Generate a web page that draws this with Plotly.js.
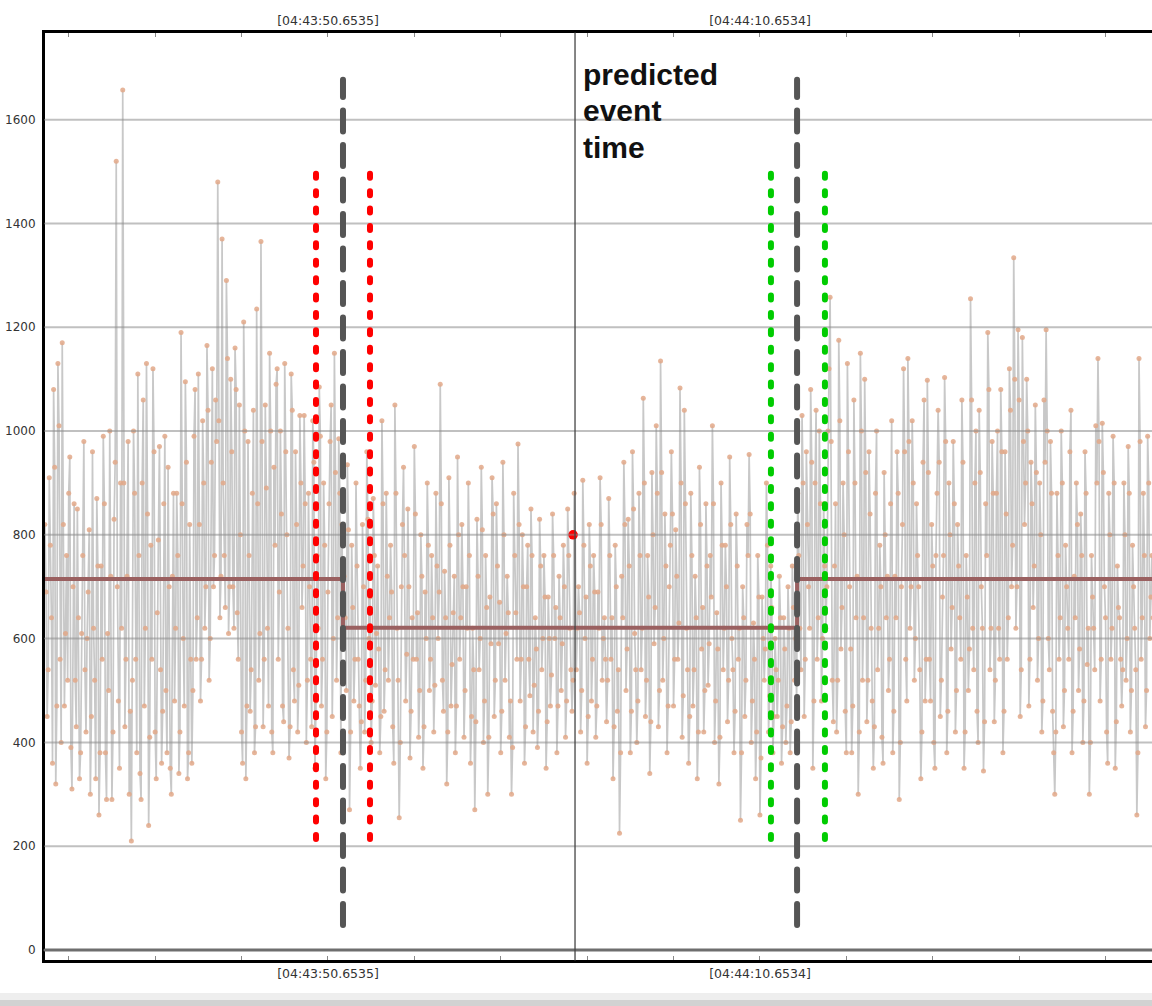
<!DOCTYPE html>
<html><head><meta charset="utf-8">
<script src="https://cdn.plot.ly/plotly-3.0.1.min.js"></script>
<style>html,body{margin:0;padding:0;background:#fff}#chart{width:1152px;height:1006px}
.shapelayer path{stroke-linecap:round}</style>
</head><body><div id="chart"></div>
<script>
// time axis: seconds after 04:43:00, one sample every 50 ms
const sampleStart = 37.55;
const samplePeriod = 0.05;

const valuesBefore = [
820,690,450,540,910,780,640,360,1080,930,320,470,1130,1010,560,400,1170,820,470,610,760,520,880,950,390,310,700,860,520,430,850,640,330,380,610,760,980,540,420,600,
690,810,300,450,960,620,520,330,870,740,260,380,740,560,990,860,380,290,610,500,1000,720,290,420,830,940,1520,700,480,350,900,620,1657,900,430,560,720,980,300,460,
210,520,1000,880,560,380,1110,760,340,290,900,1060,470,620,1130,840,240,410,780,560,1120,960,420,330,650,790,970,540,360,460,860,990,500,380,930,700,350,300,720,880,
480,620,880,760,340,420,1190,860,600,470,1095,940,330,380,820,560,360,500,990,1080,560,640,1110,820,480,560,1020,900,620,700,1165,1040,520,600,940,1120,700,760,1060,980,
1480,1020,640,720,1370,900,760,660,1290,1140,610,700,1100,960,700,620,1160,1080,650,560,1050,800,420,360,1210,1000,330,470,980,760,460,540,880,1040,380,430,1235,860,520,610,
1365,980,430,560,1050,890,620,470,1150,1000,420,380,930,780,1090,1120,560,690,1000,840,470,440,1130,960,800,620,370,430,1110,1040,540,480,960,820,420,510,1030,900,660,740,
1030,860,400,520,880,700,560,430,1020,940,350,480,760,620,1085,990,470,560,900,780,330,420,690,860,980,1050,450,600,1150,920,520,640,985,880,380,820
];
const valuesBetween = [
600,720,
640,500,935,810,270,420,780,660,480,560,900,740,560,470,350,440,820,700,420,520,960,830,600,680,400,480,870,760,510,610,740,580,380,450,1020,860,460,540,880,720,
520,640,780,690,430,360,1050,880,620,520,255,400,700,820,930,760,480,570,850,700,370,460,640,560,970,840,560,650,410,500,800,720,350,430,690,600,900,780,500,560,
760,640,420,510,880,740,600,690,1090,860,520,460,730,640,320,420,910,780,470,550,650,720,380,470,950,800,560,640,820,700,410,500,700,620,900,760,360,450,620,540,
270,440,830,720,540,600,930,810,400,480,760,660,300,410,680,590,910,840,450,520,860,740,590,670,380,460,940,800,520,610,720,650,410,480,300,390,880,760,650,560,
975,820,480,560,800,700,360,430,700,780,560,490,850,760,420,510,640,580,390,460,830,740,540,600,760,680,350,440,680,600,470,530,840,760,600,660,380,470,720,640,
500,590,780,700,410,480,850,760,620,540,460,520,880,800,540,620,700,650,420,500,905,780,600,680,360,450,820,740,480,560,760,690,410,470,690,620,910,820,520,600,
640,560,440,520,870,760,560,640,330,430,780,700,460,540,225,380,720,640,940,820,500,580,830,740,380,460,960,850,610,540,400,480,880,760,540,620,1063,900,450,520,
760,680,340,440,920,800,590,660,1010,880,430,500,1135,920,520,600,840,740,380,470,700,780,960,840,470,560,810,720,560,630,1083,900,410,490,1040,860,620,540,360,450,
880,760,470,540,720,640,330,420,930,820,580,660,420,500,860,740,510,590,760,680,1010,860,400,480,650,580,320,410,900,780,540,620,780,700,440,520,950,820,600,540,
380,460,840,740,560,620,250,380,700,640,450,520,820,760,955,840,400,480,630,560,330,420,760,680,260,370,680,600,520,580,900,780,420,490,740,660,380,450,600,540,
450,520,720,640,360,430,640,580,400,470,700,620,380,440,740,660,520,600,480
];
const valuesAfter = [
880,760,620,540,1030,900,450,560,960,820,700,620,1080,940,350,480,900,1040,560,640,1000,860,
480,600,860,740,620,700,1000,1120,1258,980,520,440,740,860,420,520,1175,1020,580,660,900,800,460,380,1130,960,700,580,380,470,1060,900,640,720,300,420,1150,1000,520,640,
1100,920,440,520,960,840,620,480,350,430,880,1000,540,620,780,700,410,360,920,800,640,720,500,560,860,1020,380,460,720,640,960,880,290,400,700,820,1120,960,560,480,
1140,980,620,700,1020,900,520,600,860,760,700,540,330,420,940,1060,480,560,1098,920,560,480,820,740,400,350,760,880,1040,940,450,520,680,760,1103,980,380,460,900,800,
580,660,980,860,420,500,820,740,640,560,1060,940,350,420,760,680,500,580,1255,1060,620,540,900,1000,460,400,1040,920,700,620,345,440,860,760,1190,1080,540,620,980,880,
440,520,880,1000,620,560,1080,960,380,460,960,840,560,640,1120,1040,700,780,1334,1100,620,700,1195,1060,450,540,1180,980,820,900,1100,1000,470,560,940,860,660,740,1050,920,
520,600,900,800,420,480,1060,940,1195,1000,600,540,980,880,460,380,300,420,880,760,560,640,1000,900,430,500,780,700,620,560,960,1040,380,460,720,640,900,820,500,580,
840,760,400,480,960,880,550,620,300,400,760,680,620,540,1010,900,1140,980,480,560,1015,920,700,640,420,360,880,800,560,620,990,900,350,440,740,660,640,560,470,540,
900,800,520,600,970,880,420,500,780,700,620,540,260,380,1140,980,560,640,880,760,430,500,990,900,600,680,760,640
];

const changeTimes = [51.348, 72.37];
const stepLevels = [715, 621, 715];
const redBounds = [50.098, 52.598];
const greenBounds = [71.16, 73.66];
const boundSpan = [214, 1511];
const changeSpan = [48, 1677];
const predictedTime = 62.09;
const markTime = 62.0;
const markValue = 800;
const tickTimes = [50.6535, 70.6534];
const tickLabels = ["[04:43:50.6535]", "[04:44:10.6534]"];
const yTicks = [0, 200, 400, 600, 800, 1000, 1200, 1400, 1600];
const noteLines = ["predicted", "event", "time"];

const xRange = [37.552, 88.802];
const yRange = [-19.3, 1767];

const values = valuesBefore.concat(valuesBetween, valuesAfter);
const times = values.map((v, i) => sampleStart + i * samplePeriod);

const signal = {
  type: 'scatter', mode: 'lines+markers', x: times, y: values,
  line: {color: '#c8c8c8', width: 1.7},
  marker: {color: 'rgba(226,168,136,0.85)', size: 5, line: {width: 0}},
  hoverinfo: 'skip'
};
const step = {
  type: 'scatter', mode: 'lines',
  x: [xRange[0], changeTimes[0], changeTimes[0], changeTimes[1], changeTimes[1], xRange[1]],
  y: [stepLevels[0], stepLevels[0], stepLevels[1], stepLevels[1], stepLevels[2], stepLevels[2]],
  line: {color: '#9a6060', width: 4}, hoverinfo: 'skip'
};
const mark = {
  type: 'scatter', mode: 'markers', x: [markTime], y: [markValue], xaxis: 'x2',
  marker: {color: '#ff0000', size: 9.5}, hoverinfo: 'skip'
};

const shapes = [];
yTicks.forEach(v => {
  if (v === 0) {
    shapes.push({type: 'line', xref: 'paper', yref: 'y', x0: 0, x1: 1, y0: v, y1: v,
      line: {color: '#6e6e6e', width: 3}, layer: 'above'});
  } else {
    shapes.push({type: 'line', xref: 'paper', yref: 'y', x0: 0, x1: 1, y0: v, y1: v,
      line: {color: 'rgba(140,140,140,0.55)', width: 2}, layer: 'above'});
  }
});
shapes.push({type: 'line', xref: 'x', yref: 'paper', x0: predictedTime, x1: predictedTime, y0: 0, y1: 1,
  line: {color: '#444', width: 1.3}, layer: 'above'});
redBounds.forEach(t => shapes.push({type: 'line', xref: 'x', yref: 'y', x0: t, x1: t, y0: boundSpan[0], y1: boundSpan[1],
  line: {color: '#ff0000', width: 6, dash: '4px,13.4px'}, layer: 'above'}));
greenBounds.forEach(t => shapes.push({type: 'line', xref: 'x', yref: 'y', x0: t, x1: t, y0: boundSpan[0], y1: boundSpan[1],
  line: {color: '#00cc00', width: 6, dash: '4px,13.4px'}, layer: 'above'}));
changeTimes.forEach(t => shapes.push({type: 'line', xref: 'x', yref: 'y', x0: t, x1: t, y0: changeSpan[0], y1: changeSpan[1],
  line: {color: '#555555', width: 6, dash: '21px,13.5px'}, layer: 'above'}));
// window strip at the bottom
shapes.push({type: 'rect', xref: 'paper', yref: 'paper', x0: -0.05, x1: 1, y0: -0.0356, y1: -0.05,
  fillcolor: '#eeeeee', line: {width: 0}, layer: 'above'});
shapes.push({type: 'rect', xref: 'paper', yref: 'paper', x0: -0.05, x1: 1, y0: -0.0431, y1: -0.05,
  fillcolor: '#d2d2d2', line: {width: 0}, layer: 'above'});

const noteY = [0.9547, 0.9169, 0.8770];
const annotations = noteLines.map((t, i) => ({
  text: '<b>' + t + '</b>', x: 62.36, xref: 'x', xanchor: 'left',
  y: noteY[i], yref: 'paper', yanchor: 'middle', showarrow: false,
  font: {family: 'Liberation Sans, Arial, sans-serif', size: 30, color: '#111'}
}));

const tickFont = {family: 'DejaVu Sans, sans-serif', size: 12.5, color: '#333'};
const xBase = {
  range: xRange, tickmode: 'array', tickvals: tickTimes, ticktext: tickLabels,
  ticks: 'inside', ticklen: 4, tickwidth: 1, tickcolor: '#888',
  showgrid: false, zeroline: false, showline: true, linecolor: '#000', linewidth: 3,
  tickfont: tickFont,
  minor: {tick0: tickTimes[0], dtick: 4, ticks: 'inside', ticklen: 4, tickwidth: 1, tickcolor: '#888', showgrid: false}
};

const layout = {
  width: 1152, height: 1006,
  margin: {l: 45, r: 0, t: 33, b: 46, pad: 0},
  paper_bgcolor: '#ffffff', plot_bgcolor: '#ffffff',
  showlegend: false,
  xaxis: Object.assign({}, xBase, {side: 'bottom'}),
  xaxis2: Object.assign({}, xBase, {side: 'top', overlaying: 'x', anchor: 'y'}),
  yaxis: {range: yRange, tickmode: 'array', tickvals: yTicks, ticks: '',
    showgrid: false, zeroline: false, showline: true, linecolor: '#000', linewidth: 3,
    ticklabelstandoff: 4,
    tickfont: {family: 'DejaVu Sans, sans-serif', size: 12, color: '#333'}},
  shapes: shapes,
  annotations: annotations
};

Plotly.newPlot('chart', [signal, step, mark], layout, {displayModeBar: false, staticPlot: true});
</script>
</body></html>
